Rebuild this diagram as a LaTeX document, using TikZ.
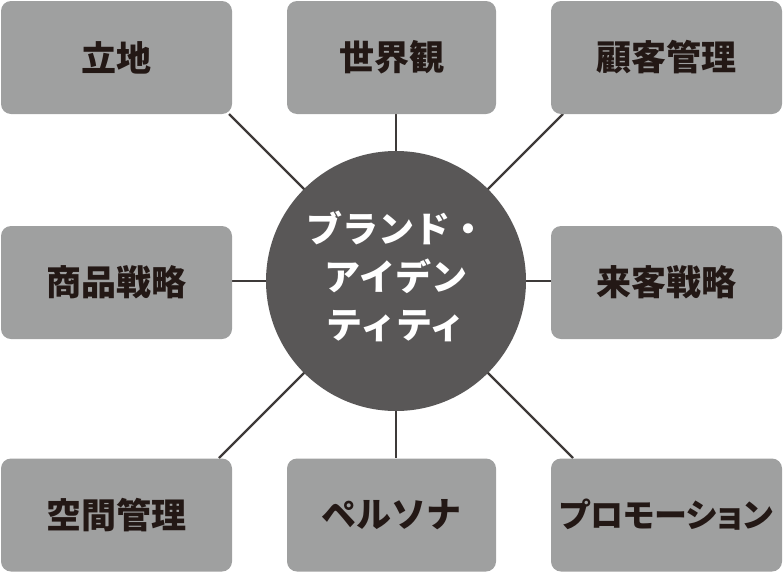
\documentclass[tikz,border=0pt]{standalone}
\usepackage{fontspec}
\setmainfont{Noto Sans CJK JP}[BoldFont={Noto Sans CJK JP Black}]
\usetikzlibrary{calc}
\definecolor{boxgray}{HTML}{9FA0A0}
\definecolor{hubgray}{HTML}{595757}
\definecolor{linegray}{HTML}{3E3A39}
\definecolor{ink}{HTML}{231815}
\newcommand\boxtext[1]{\raisebox{-2pt}{#1}}
\tikzset{
  box/.style={fill=boxgray, rounded corners=10pt, minimum height=113pt, inner sep=0pt,
    text=ink, font=\bfseries\fontsize{35pt}{40pt}\selectfont},
  widebox/.style={box, minimum width=231pt},
  midbox/.style={box, minimum width=209pt},
  hub/.style={circle, fill=hubgray, minimum size=260pt, inner sep=0pt, text=white,
    align=center, font=\bfseries\fontsize{36pt}{48pt}\selectfont},
  link/.style={draw=linegray, line width=2.3pt}
}
\begin{document}
\begin{tikzpicture}[x=1pt,y=-1pt]
\useasboundingbox (0,0) rectangle (783,573);
% centre position and connector end points
\coordinate (hc) at (396,281);
\coordinate (e1) at ($(hc)+(-167,-167)$);
\coordinate (e2) at ($(hc)+(0,-167)$);
\coordinate (e3) at ($(hc)+(167,-167)$);
\coordinate (e4) at ($(hc)+(-164,0)$);
\coordinate (e5) at ($(hc)+(155,0)$);
\coordinate (e6) at ($(hc)+(-177,177)$);
\coordinate (e7) at ($(hc)+(0,177)$);
\coordinate (e8) at ($(hc)+(177,177)$);
% connectors
\foreach \e in {e1,e2,e3,e4,e5,e6,e7,e8} \draw[link] (hc) -- (\e);
% boxes
\node[widebox] (b1) at (116.5,57.5) {\boxtext{立地}};
\node[midbox]  (b2) at (391.5,57.5) {\boxtext{世界観}};
\node[widebox] (b3) at (666.5,57.5) {\boxtext{顧客管理}};
\node[widebox] (b4) at (116.5,282.5) {\boxtext{商品戦略}};
\node[widebox] (b5) at (666.5,282.5) {\boxtext{来客戦略}};
\node[widebox] (b6) at (116.5,515) {\boxtext{空間管理}};
\node[midbox]  (b7) at (391.5,515) {\boxtext{ペルソナ}};
\node[widebox] (b8) at (666.5,515) {\boxtext{\fontsize{33pt}{40pt}\selectfont\addfontfeature{RawFeature=+palt}プロモーション}};
% hub
\node[hub] (hub) at (hc) {\raisebox{-3pt}{\begin{tabular}{@{}c@{}}ブランド・\\アイデン\\ティティ\end{tabular}}};
\end{tikzpicture}
\end{document}
